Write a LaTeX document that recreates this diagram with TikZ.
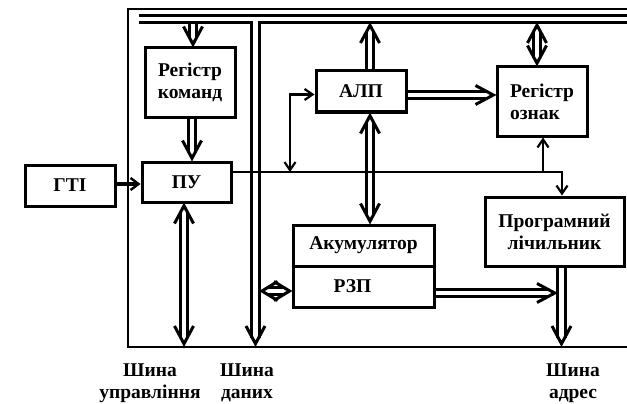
\documentclass[tikz,border=0pt]{standalone}
\usepackage{fontspec}
\setmainfont{Liberation Serif}
\usetikzlibrary{arrows.meta}
\newcommand\dhead[3][]{\draw[dhd, shift={#2}, rotate=#3, #1] (-20,9.5) -- (-2.2,0) -- (-20,-9.5);}
\begin{document}
\begin{tikzpicture}[x=1pt,y=-1pt,
  font=\fontsize{19.5}{22}\selectfont\bfseries,
  box/.style={draw, line width=3pt, inner sep=0pt, align=center},
  dbl/.style={double, double distance=4.8pt, line width=2.7pt},
  dhd/.style={line width=3pt, line join=miter, line cap=butt},
  ctl/.style={line width=2.1pt},
  frame/.style={line width=1.7pt},
  stip/.tip={Straight Barb[length=8pt,width=11pt,line width=2.2pt]},
  lbl/.style={align=center, inner sep=0pt, anchor=north}]
\useasboundingbox (0,0) rectangle (627,404);
% frame
\draw[frame] (640,9) -- (128,9) -- (128,347) -- (640,347);
% boxes
\node[box, minimum width=90pt, minimum height=41pt] (gti) at (70,185.5) {ГТІ};
\node[box, minimum width=89pt, minimum height=40pt] (pu) at (186.5,182) {ПУ};
\node[box, minimum width=90pt, minimum height=69pt] (rk) at (190,82.5) {Регістр\\команд};
\node[box, minimum width=90pt, minimum height=41pt] (alp) at (361,91.5) {АЛП};
\node[box, minimum width=90pt, minimum height=69pt, align=left] (ro) at (542,101.5) {Регістр\\ознак};
\node[box, minimum width=139pt, minimum height=69pt] (pl) at (554.5,231.5) {Програмний\\лічильник};
\node[box, minimum width=141pt, minimum height=41pt] (ak) at (363.5,245.5) {Акумулятор};
\node[box, minimum width=141pt, minimum height=41pt] (rzp) at (363.5,286.5) {РЗП\hspace*{22pt}};
% coordinates
\coordinate (busL) at (139,19);
\coordinate (busJ) at (255.5,19);
\coordinate (busR) at (640,19);
\coordinate (dbB) at (255.5,346);
\coordinate (dbR) at (260,0);
\coordinate (cbB) at (184,346);
\coordinate (abB) at (561.5,346);
\coordinate (abL) at (557,0);
\coordinate (t1) at (193,24.5);
\coordinate (t2) at (370,23);
\coordinate (t3) at (537,23);
\coordinate (j1) at (290,172);
\coordinate (j2) at (543,172);
\coordinate (j3) at (562,172);
% buses
\draw[dbl,shorten >=8.5pt] (busL) -- (busJ) -- (dbB);
\draw[dbl] (busJ) -- (busR);
\draw[white,line width=4.8pt] (busJ) -- ++(0,12);
\dhead{(dbB)}{270}
% double arrows
\draw[dbl,shorten >=8.5pt] (t1) -- (t1 |- rk.north);
\dhead{(t1 |- rk.north)}{270}
\draw[dbl,shorten >=8.5pt] ([xshift=2pt]rk.south) -- ([xshift=2pt]rk.south |- pu.north);
\dhead{([xshift=2pt]rk.south |- pu.north)}{270}
\draw[dbl,shorten <=8.5pt,shorten >=8.5pt] (pu.south -| cbB) -- (cbB);
\dhead{(pu.south -| cbB)}{90}
\dhead{(cbB)}{270}
\draw[dbl,shorten >=8.5pt] (t2 |- alp.north) -- (t2);
\dhead{(t2)}{90}
\draw[dbl,shorten <=8.5pt,shorten >=8.5pt] (t2 |- alp.south) -- (t2 |- ak.north);
\dhead{(t2 |- alp.south)}{90}
\dhead{(t2 |- ak.north)}{270}
\draw[dbl,shorten >=8.5pt] ([yshift=-3.5pt]alp.east) -- ([yshift=-3.5pt]alp.east -| ro.west);
\dhead{([yshift=-3.5pt]alp.east -| ro.west)}{0}
\draw[dbl,shorten <=8.5pt,shorten >=8.5pt] (t3) -- (t3 |- ro.north);
\dhead{(t3)}{90}
\dhead{(t3 |- ro.north)}{270}
\draw[dbl,shorten >=8.5pt] ([yshift=-6.5pt]rzp.east) -- ([yshift=-6.5pt]rzp.east -| abL);
\dhead{([yshift=-6.5pt]rzp.east -| abL)}{0}
\draw[dbl,shorten >=8.5pt] (pl.south -| abB) -- (abB);
\dhead{(abB)}{270}
\draw[dbl,shorten <=7.5pt,shorten >=7.5pt] ([yshift=-4.5pt]rzp.west -| dbR) -- ([yshift=-4.5pt]rzp.west);
\dhead[xscale=0.88]{([yshift=-4.5pt]rzp.west -| dbR)}{180}
\dhead[xscale=0.88]{([yshift=-4.5pt]rzp.west)}{0}
% control lines
\draw[line width=3.2pt,-{Straight Barb[length=8pt,width=12pt,line width=2.4pt]}] (gti.east |- 0,184) -- (pu.west |- 0,184);
\draw[ctl,-stip] ([yshift=10pt]pu.east) -| (j3 |- pl.north);
\draw[ctl,stip-stip] (j1) |- ([yshift=-3pt]alp.west);
\draw[ctl,-stip] (j2) -- (j2 |- ro.south);
% labels
\node[lbl] (l1) at (150,364) {Шина\\управління};
\node[lbl] (l2) at (247,364) {Шина\\даних};
\node[lbl] (l3) at (573,364) {Шина\\адрес};
\end{tikzpicture}
\end{document}
